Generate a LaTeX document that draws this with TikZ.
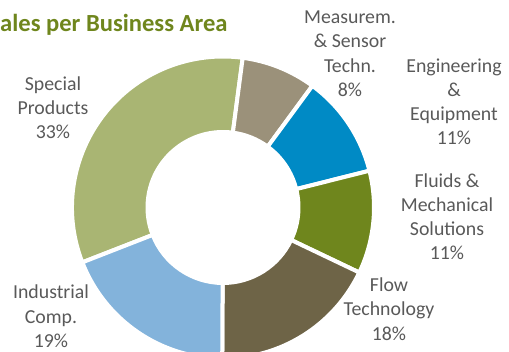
\documentclass[tikz,border=0pt]{standalone}
\usepackage{fontspec}
\setmainfont{Carlito}
\definecolor{cspecial}{HTML}{A9B573}
\definecolor{cmeas}{HTML}{9B917A}
\definecolor{ceng}{HTML}{008AC5}
\definecolor{cfluids}{HTML}{6F861D}
\definecolor{cflow}{HTML}{6E6447}
\definecolor{cindus}{HTML}{83B3DB}
\definecolor{labelgray}{HTML}{595959}
\begin{document}
\begin{tikzpicture}[x=1pt,y=1pt,
    seg/.style={draw=white, line width=4pt},
    lbl/.style={align=center, text=labelgray, inner sep=0pt, anchor=base,
        font=\fontsize{19.8}{24.3}\selectfont}]
\useasboundingbox (0,0) rectangle (509,351);
\coordinate (c) at (223,143.5);

\path [seg, fill=cspecial] ([shift={(201.3:151pt)}]c) arc [start angle=201.3, end angle=82.5, radius=151pt]
    -- ([shift={(82.5:75.5pt)}]c) arc [start angle=82.5, end angle=201.3, radius=75.5pt] -- cycle;
\path [seg, fill=cmeas] ([shift={(82.5:151pt)}]c) arc [start angle=82.5, end angle=53.7, radius=151pt]
    -- ([shift={(53.7:75.5pt)}]c) arc [start angle=53.7, end angle=82.5, radius=75.5pt] -- cycle;
\path [seg, fill=ceng] ([shift={(53.7:151pt)}]c) arc [start angle=53.7, end angle=14.1, radius=151pt]
    -- ([shift={(14.1:75.5pt)}]c) arc [start angle=14.1, end angle=53.7, radius=75.5pt] -- cycle;
\path [seg, fill=cfluids] ([shift={(14.1:151pt)}]c) arc [start angle=14.1, end angle=-25.5, radius=151pt]
    -- ([shift={(-25.5:75.5pt)}]c) arc [start angle=-25.5, end angle=14.1, radius=75.5pt] -- cycle;
\path [seg, fill=cflow] ([shift={(-25.5:151pt)}]c) arc [start angle=-25.5, end angle=-90.3, radius=151pt]
    -- ([shift={(-90.3:75.5pt)}]c) arc [start angle=-90.3, end angle=-25.5, radius=75.5pt] -- cycle;
\path [seg, fill=cindus] ([shift={(-90.3:151pt)}]c) arc [start angle=-90.3, end angle=-158.7, radius=151pt]
    -- ([shift={(-158.7:75.5pt)}]c) arc [start angle=-158.7, end angle=-90.3, radius=75.5pt] -- cycle;

\node [anchor=base west, inner sep=0pt, text=cfluids, font=\fontsize{24.6}{28}\selectfont\bfseries] (title) at (0,319) {ales per Business Area};

\node [lbl] (special) at (53,212) {Special\\Products\\33\%};
\node [lbl] (meas) at (350,254.5) {Measurem.\\\& Sensor\\Techn.\\8\%};
\node [lbl] (eng) at (454,206) {Engineering\\\&\\Equipment\\11\%};
\node [lbl] (fluids) at (447,91) {Fluids \&\\Mechanical\\Solutions\\11\%};
\node [lbl] (flow) at (389,11) {Flow\\Technology\\18\%};
\node [lbl] (indus) at (51,3.5) {Industrial\\Comp.\\19\%};
\end{tikzpicture}
\end{document}
